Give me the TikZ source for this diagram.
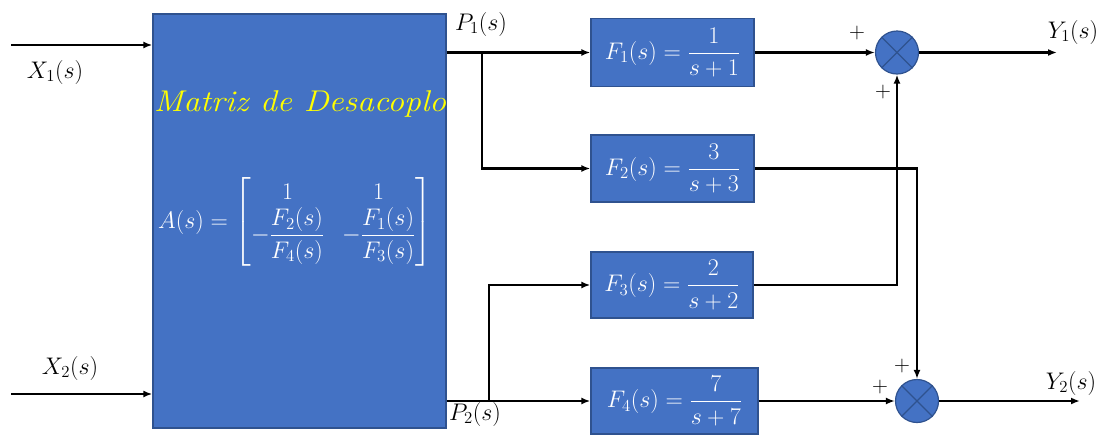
\RequirePackage{fix-cm}
\documentclass[tikz,border=0pt]{standalone}
\usepackage{amsmath}
\usetikzlibrary{arrows.meta}
\definecolor{bfill}{HTML}{4472C4}
\definecolor{bdraw}{HTML}{2F528F}
\definecolor{ytext}{HTML}{FFFF00}
\tikzset{
  blk/.style={draw=bdraw, fill=bfill, line width=1.3pt, text=white, inner sep=0pt,
    font=\fontsize{24}{28}\selectfont},
  sumnode/.style={circle, draw=bdraw, fill=bfill, line width=1.2pt, minimum size=43pt, inner sep=0pt},
  sig/.style={line width=2.2pt, -{Latex[length=9pt,width=7pt]}},
  lbl/.style={font=\fontsize{24}{28}\selectfont, inner sep=0pt},
  pm/.style={font=\fontsize{22}{26}\selectfont, inner sep=0pt}
}
\begin{document}
\begin{tikzpicture}[x=1pt,y=-1pt]
\useasboundingbox (0,0) rectangle (1102,434);
% main block
\node[blk, minimum width=293pt, minimum height=414pt] (A) at (299.5,221) {};
\node[font=\fontsize{30}{34}\selectfont\itshape, text=ytext, inner sep=0pt] (title) at (300,104) {\scalebox{1.12}[1]{Matriz de Desacoplo}};
\node[lbl, text=white] (mat) at (295,222) {$A(s)=\setlength{\arraycolsep}{9pt}\begin{bmatrix} 1 & 1\\ -\dfrac{F_2(s)}{F_4(s)} & -\dfrac{F_1(s)}{F_3(s)}\end{bmatrix}$};
% F blocks
\node[blk, minimum width=163pt, minimum height=68pt] (F1) at (672.5,52.5) {$F_1(s)=\dfrac{1}{s+1}$};
\node[blk, minimum width=163pt, minimum height=67pt] (F2) at (672.5,168.5) {$F_2(s)=\dfrac{3}{s+3}$};
\node[blk, minimum width=162pt, minimum height=66pt] (F3) at (672,285) {$F_3(s)=\dfrac{2}{s+2}$};
\node[blk, minimum width=167pt, minimum height=66pt] (F4) at (674.5,401) {$F_4(s)=\dfrac{7}{s+7}$};
% summing junctions
\node[sumnode] (S1) at (897,52.5) {};
\node[sumnode] (S2) at (917,401) {};
\draw[bdraw, line width=1.1pt] (S1.north west) -- (S1.south east) (S1.north east) -- (S1.south west);
\draw[bdraw, line width=1.1pt] (S2.north west) -- (S2.south east) (S2.north east) -- (S2.south west);
% coordinates
\coordinate (x1) at (11,45);
\coordinate (x2) at (11,394);
\coordinate (b1) at (482,52.5);
\coordinate (b2) at (489,401);
\coordinate (y1) at (1057,52.5);
\coordinate (y2) at (1080,401);
% inputs
\draw[sig] (x1) -- (x1 -| A.west);
\draw[sig] (x2) -- (x2 -| A.west);
% P1, P2
\draw[sig] (F1.west -| A.east) -- (F1.west);
\draw[sig] (b1) |- (F2.west);
\draw[sig] (F4.west -| A.east) -- (F4.west);
\draw[sig] (b2) |- (F3.west);
% outputs
\draw[sig] (F1.east) -- (S1.west);
\draw[sig] (F3.east) -| (S1.south);
\draw[sig] (F2.east) -| (S2.north);
\draw[sig] (F4.east) -- (S2.west);
\draw[sig] (S1.east) -- (y1);
\draw[sig] (S2.east) -- (y2);
% labels
\node[lbl] (lx1) at (55,72) {$X_1(s)$};
\node[lbl] (lx2) at (70,368) {$X_2(s)$};
\node[lbl] (lp1) at (481,24) {$P_1(s)$};
\node[lbl] (lp2) at (475,414) {$P_2(s)$};
\node[lbl] (ly1) at (1073,32) {$Y_1(s)$};
\node[lbl] (ly2) at (1071,383) {$Y_2(s)$};
\node[pm] (p1) at (857,33) {$+$};
\node[pm] (p2) at (883,92) {$+$};
\node[pm] (p3) at (880,387) {$+$};
\node[pm] (p4) at (902,366) {$+$};
\end{tikzpicture}
\end{document}
